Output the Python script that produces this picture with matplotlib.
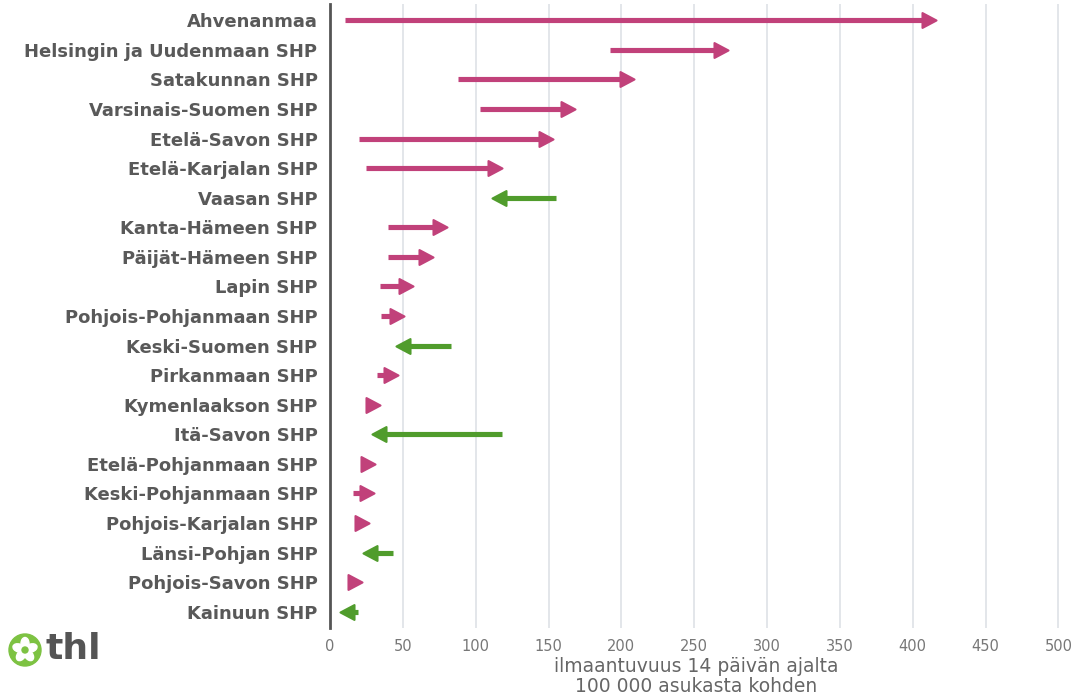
import matplotlib
matplotlib.use("Agg")
import matplotlib.pyplot as plt
import numpy as np
from matplotlib.path import Path
from matplotlib.markers import MarkerStyle
from matplotlib.patches import Circle, Ellipse

regions = ["Ahvenanmaa", "Helsingin ja Uudenmaan SHP", "Satakunnan SHP",
           "Varsinais-Suomen SHP", "Etelä-Savon SHP", "Etelä-Karjalan SHP",
           "Vaasan SHP", "Kanta-Hämeen SHP", "Päijät-Hämeen SHP", "Lapin SHP",
           "Pohjois-Pohjanmaan SHP", "Keski-Suomen SHP", "Pirkanmaan SHP",
           "Kymenlaakson SHP", "Itä-Savon SHP", "Etelä-Pohjanmaan SHP",
           "Keski-Pohjanmaan SHP", "Pohjois-Karjalan SHP", "Länsi-Pohjan SHP",
           "Pohjois-Savon SHP", "Kainuun SHP"]
start_vals = [10, 192, 88, 103, 20, 25, 155, 40, 40, 34, 35, 83, 32, 28, 118,
              25, 16, 20, 43, 14, 19]
end_vals = [416, 273, 209, 168, 153, 118, 111, 80, 71, 57, 51, 45, 47, 34, 29,
            31, 30, 27, 22.5, 22, 7]
x_ticks = [0, 50, 100, 150, 200, 250, 300, 350, 400, 450, 500]

PINK = "#c1417a"
GREEN = "#509c2c"
TXT = "#595959"

plt.rcParams["font.family"] = ["DejaVu Sans"]

fig = plt.figure(figsize=(10.78, 6.97), dpi=100)
W, H = 1078, 697
ax = fig.add_axes([330 / W, 1 - 628 / H, (1062 - 330) / W, (628 - 4) / H])
n = len(regions)
ypos = np.arange(n)[::-1]

ax.set_xlim(0, 502.5)
ax.set_ylim(-0.55, n - 0.45)

for gx in x_ticks[1:]:
    ax.axvline(gx, color="#e1e4e8", lw=1.3, zorder=0)

px_per_unit = (ax.get_window_extent().width) / (502.5)
head_len_px = 14.0
head_units = head_len_px / px_per_unit

right_marker = MarkerStyle(Path([(0, 0), (-1, 0.53), (-1, -0.53), (0, 0)],
                                [Path.MOVETO, Path.LINETO, Path.LINETO, Path.CLOSEPOLY]),
                           joinstyle="round")
left_marker = MarkerStyle(Path([(0, 0), (1, 0.53), (1, -0.53), (0, 0)],
                               [Path.MOVETO, Path.LINETO, Path.LINETO, Path.CLOSEPOLY]),
                          joinstyle="round")
msize = 2 * head_len_px * 72 / 100

for s, e, y in zip(start_vals, end_vals, ypos):
    up = e >= s
    col = PINK if up else GREEN
    d = 1 if up else -1
    line_end = e - d * head_units * 0.6
    if (line_end - s) * d > 0:
        ax.plot([s, line_end], [y, y], color=col, lw=3.7, solid_capstyle="butt", zorder=2)
    ax.plot([e], [y], linestyle="none", marker=right_marker if up else left_marker,
            markersize=msize, color=col, markeredgecolor=col, markeredgewidth=1.5, zorder=3)

ax.set_yticks(ypos)
ax.set_yticklabels(regions, fontsize=13, fontweight="bold", color=TXT,
                   family="DejaVu Sans")
ax.set_xticks(x_ticks)
ax.set_xticklabels([str(t) for t in x_ticks], fontsize=10.5, color="#777777")
ax.tick_params(axis="y", length=0, pad=9)
ax.tick_params(axis="x", length=0, pad=8)
for sp in ["top", "right", "bottom"]:
    ax.spines[sp].set_visible(False)
ax.spines["left"].set_color("#555555")
ax.spines["left"].set_linewidth(2)
ax.set_xlabel("ilmaantuvuus 14 päivän ajalta\n100 000 asukasta kohden", fontsize=13.5,
              color="#666666", linespacing=1.05, labelpad=2)

# thl logo
lax = fig.add_axes([0, 0, 1, 1], facecolor="none")
lax.set_xlim(0, W)
lax.set_ylim(H, 0)
lax.axis("off")
cx, cy = 25, 650
lax.add_patch(Circle((cx, cy), 16, color="#7dc242"))
for k in range(5):
    a = np.deg2rad(90 + k * 72)
    lax.add_patch(Ellipse((cx + 6.5 * np.cos(a), cy - 6.5 * np.sin(a)), 8, 12,
                          angle=-(k * 72), color="white"))
lax.add_patch(Circle((cx, cy), 3.0, color="#7dc242"))
lax.text(46, 649, "thl", fontsize=26, fontweight="heavy", color="#555555",
         va="center", ha="left")

fig.savefig("out.png", dpi=100)
